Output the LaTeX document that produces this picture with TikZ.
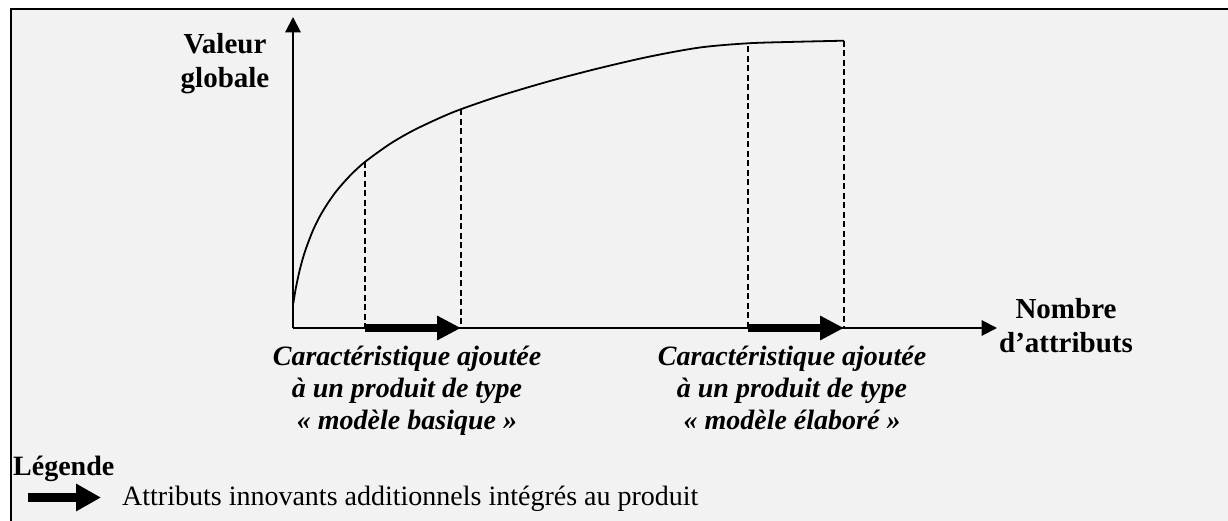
\documentclass[tikz,border=0pt]{standalone}
\usepackage{fontspec}
\setmainfont{Liberation Serif}
\usetikzlibrary{arrows.meta}
\begin{document}
\begin{tikzpicture}[x=1pt,y=-1pt,
  axis/.style={line width=2pt,-{Triangle[length=15.5pt,width=15.5pt]}},
  curve/.style={line width=1.8pt},
  guide/.style={line width=1.6pt,dash pattern=on 6pt off 3.5pt},
  addarrow/.style={line width=7.5pt,-{Triangle[length=24pt,width=23pt]}},
  legarrow/.style={line width=8.5pt,-{Triangle[length=25pt,width=26pt]}},
  lbl/.style={inner sep=0pt,anchor=north,align=center,font=\fontsize{29}{34}\selectfont\bfseries},
  captext/.style={inner sep=0pt,anchor=north,align=center,font=\fontsize{28}{32}\selectfont\bfseries\itshape},
  legtitle/.style={inner sep=0pt,anchor=base west,font=\fontsize{28}{34}\selectfont\bfseries},
  legtext/.style={inner sep=0pt,anchor=base west,font=\fontsize{28}{34}\selectfont},
]
\useasboundingbox (0,0) rectangle (1228,521);
\fill[white] (0,0) rectangle (1228,521);
\fill[black!5] (11,9) rectangle (1228,521);
\draw[line width=2.2pt] (11,521) -- (11,9) -- (1228,9);

% axes
\coordinate (O) at (293,328);
\coordinate (Ytop) at (293,17);
\coordinate (Xend) at (997,328);
\draw[axis] (O) -- (Ytop);
\draw[axis] (O) -- (Xend);

% curve
\coordinate (c1) at (365,161.9);
\coordinate (c2) at (461,109.2);
\coordinate (c3) at (748,43.3);
\coordinate (c4) at (844,40.7);
\draw[curve,line join=round] plot[smooth,tension=0.5] coordinates {
  (293,305) (296,287.2) (300,268.9) (305,251.4) (313,230.3) (322,212.5)
  (335,192.9) (350,175.7) (365,161.9) (390,143.9) (413,130.6) (440,117.8)
  (461,109.2) (500,95.8) (550,81) (600,68) (650,56.5) (700,47.5)
  (748,43.3) (796,41.8) (844,40.7)};

% guides
\coordinate (a1) at (c1 |- O);
\coordinate (a2) at (c2 |- O);
\coordinate (a3) at (c3 |- O);
\coordinate (a4) at (c4 |- O);
\draw[guide] (c1) -- (a1);
\draw[guide] (c2) -- (a2);
\draw[guide] ([yshift=-3pt]c3) -- (a3);
\draw[guide] (c4) -- (a4);

% added attributes arrows
\draw[addarrow] (a1) -- (a2);
\draw[addarrow] (a3) -- (a4);

% labels
\node[lbl] (ylab) at (225,29.2) {\strut Valeur\\globale};
\node[lbl] (xlab) at (1066,294.2) {\strut Nombre\\d’attributs};
\node[captext] (cap1) at (407,342.6) {\strut Caractéristique ajoutée\\à un produit de type\\« modèle basique »};
\node[captext] (cap2) at (792,342.6) {\strut Caractéristique ajoutée\\à un produit de type\\« modèle élaboré »};

% legend
\node[legtitle] (legt) at (13,475) {Légende};
\coordinate (la) at (28,497.5);
\coordinate (lb) at (101,497.5);
\draw[legarrow] (la) -- (lb);
\node[legtext] (legx) at (122,505) {Attributs innovants additionnels intégrés au produit};
\end{tikzpicture}
\end{document}
